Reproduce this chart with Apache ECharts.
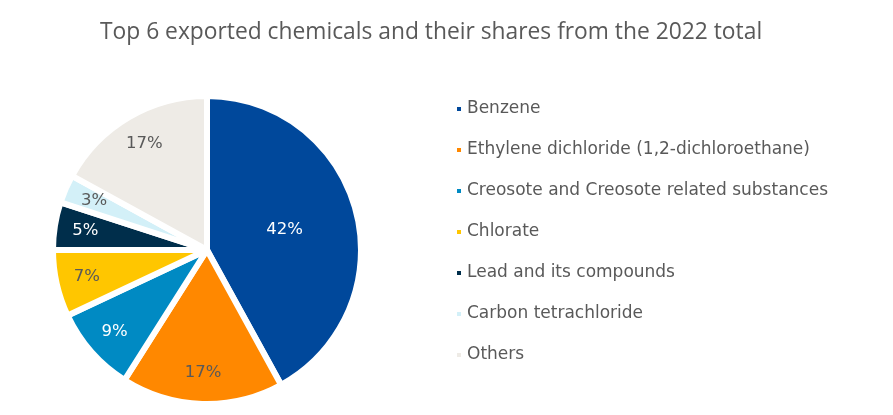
<!DOCTYPE html>
<html>
<head>
<meta charset="utf-8">
<script src="https://cdn.jsdelivr.net/npm/echarts@6/dist/echarts.min.js"></script>
<style>html,body{margin:0;padding:0;background:#fff}#c{width:893px;height:415px}</style>
</head>
<body>
<div id="c"></div>
<script>
const titleText = 'Top 6 exported chemicals and their shares from the 2022 total';
const categories = ['Benzene', 'Ethylene dichloride (1,2-dichloroethane)', 'Creosote and Creosote related substances', 'Chlorate', 'Lead and its compounds', 'Carbon tetrachloride', 'Others'];
const shares = [42, 17, 9, 7, 5, 3, 17];
const colors = ['#00489B', '#FF8800', '#008AC3', '#FFC600', '#002E4B', '#D3F0F8', '#EEEBE6'];
const labelColors = ['#ffffff', '#595959', '#ffffff', '#595959', '#ffffff', '#595959', '#595959'];
const innerLabelIdx = [0];

const chart = echarts.init(document.getElementById('c'));
const center = [207, 250];
const R = 154;
const FF = 'DejaVu Sans';
const labelFont = { fontFamily: FF, fontSize: 16.5 };

chart.setOption({
  animation: false,
  color: colors,
  title: {
    text: titleText, left: 95, top: 16,
    textStyle: { fontFamily: 'Open Sans', fontSize: 22.8, fontWeight: 'normal', color: '#595959' }
  },
  legend: {
    orient: 'vertical', left: 450, top: 94,
    icon: 'rect', itemWidth: 6, itemHeight: 6, itemGap: 21,
    textStyle: { fontFamily: FF, fontSize: 17, color: '#595959', lineHeight: 20 },
    data: categories
  },
  series: [
    {
      type: 'pie', center: center, radius: R, startAngle: 90, clockwise: true,
      silent: true,
      itemStyle: { borderColor: '#ffffff', borderWidth: 6 },
      label: { position: 'inside', formatter: '{c}%', ...labelFont },
      labelLine: { show: false },
      data: categories.map((n, i) => ({
        name: n, value: shares[i],
        label: { show: innerLabelIdx.includes(i), color: labelColors[i] }
      }))
    },
    {
      type: 'pie', center: center, radius: [R * 0.56, R], startAngle: 90, clockwise: true,
      silent: true, legendHoverLink: false,
      itemStyle: { color: 'rgba(0,0,0,0)', borderWidth: 0 },
      label: { position: 'inside', formatter: '{c}%', ...labelFont },
      labelLine: { show: false },
      data: categories.map((n, i) => ({
        name: n, value: shares[i],
        label: { show: !innerLabelIdx.includes(i), color: labelColors[i] }
      }))
    }
  ]
});
</script>
</body>
</html>
